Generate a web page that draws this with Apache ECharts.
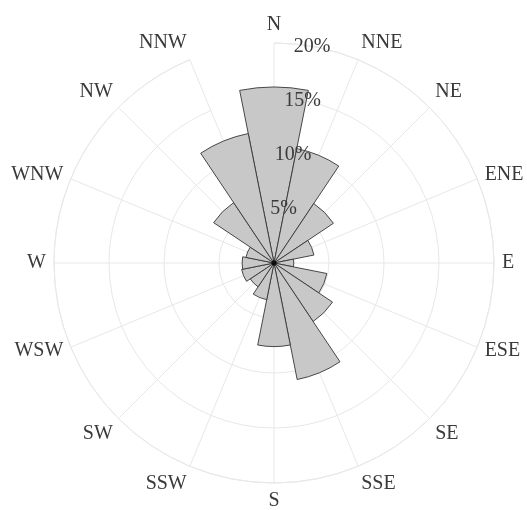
<!DOCTYPE html>
<html>
<head>
<meta charset="utf-8">
<script src="https://cdn.jsdelivr.net/npm/echarts@6/dist/echarts.min.js"></script>
<style>
html,body{margin:0;padding:0;background:#fff;}
#chart{width:527px;height:510px;}
</style>
</head>
<body>
<div id="chart"></div>
<script>
const directions = ['N','NNE','NE','ENE','E','ESE','SE','SSE','S','SSW','SW','WSW','W','WNW','NW','NNW'];
const frequency = [16.0, 10.6, 6.5, 3.7, 1.8, 4.9, 6.4, 10.8, 7.6, 3.4, 2.6, 3.0, 2.9, 2.6, 6.6, 12.0];
const radiusTicks = [0, 5, 10, 15, 20];

const CENTER = [274, 263];
const R = 220;
const FONT = 'Liberation Serif';
const TXT = '#3a3a3a';
const GRID = '#e8e8e8';
const rMax = radiusTicks[radiusTicks.length - 1];
const rStep = radiusTicks[1] - radiusTicks[0];

// Labels close to the horizontal (ENE, ESE, WSW, WNW) are centred vertically on their anchor.
const labelCats = directions.map(function (d, i) {
  const c = Math.abs(Math.cos(i * 2 * Math.PI / directions.length));
  return (c >= 0.3 && c < 0.5) ? {value: d, textStyle: {lineHeight: 1}} : d;
});

const chart = echarts.init(document.getElementById('chart'), null, {renderer: 'canvas'});
chart.setOption({
  animation: false,
  backgroundColor: '#ffffff',
  polar: [
    {center: CENTER, radius: R},
    {center: CENTER, radius: R},
    {center: CENTER, radius: R}
  ],
  angleAxis: [
    {
      polarIndex: 0, type: 'category', data: directions, boundaryGap: true,
      startAngle: 90 + 360 / directions.length / 2, clockwise: true,
      axisLine: {show: false}, axisTick: {show: false}, axisLabel: {show: false},
      splitLine: {show: false}, z: 1
    },
    {
      polarIndex: 1, type: 'category', data: labelCats, boundaryGap: false,
      startAngle: 90, clockwise: true,
      axisLine: {show: true, lineStyle: {color: GRID, width: 1}},
      axisTick: {show: false},
      axisLabel: {show: true, fontFamily: FONT, fontSize: 20, color: TXT, margin: 8},
      splitLine: {show: true, lineStyle: {color: GRID, width: 1}},
      z: 0
    },
    {
      polarIndex: 2, type: 'value', min: 0, max: 360, startAngle: 80, clockwise: true,
      axisLine: {show: false}, axisTick: {show: false}, axisLabel: {show: false},
      splitLine: {show: false}
    }
  ],
  radiusAxis: [
    {polarIndex: 0, type: 'value', min: 0, max: rMax, show: false},
    {
      polarIndex: 1, type: 'value', min: 0, max: rMax, interval: rStep,
      axisLine: {show: false}, axisTick: {show: false}, axisLabel: {show: false},
      splitLine: {show: true, lineStyle: {color: GRID, width: 1}}
    },
    {
      polarIndex: 2, type: 'value', min: 0, max: rMax, interval: rStep,
      axisLine: {show: false}, axisTick: {show: false},
      splitLine: {show: false},
      axisLabel: {
        show: true, margin: 0, align: 'center', verticalAlign: 'middle',
        fontFamily: FONT, fontSize: 20, color: TXT,
        formatter: function (v) { return v === 0 ? '' : v + '%'; }
      },
      z: 10
    }
  ],
  series: [
    {
      type: 'bar', coordinateSystem: 'polar', polarIndex: 0,
      data: frequency, barCategoryGap: '0%',
      itemStyle: {color: '#c8c8c8', borderColor: '#363636', borderWidth: 0.9},
      z: 5
    },
    {
      type: 'scatter', coordinateSystem: 'polar', polarIndex: 0,
      data: [[0, 0]], symbolSize: 5, itemStyle: {color: '#000'}, z: 6, silent: true
    }
  ]
});
</script>
</body>
</html>
